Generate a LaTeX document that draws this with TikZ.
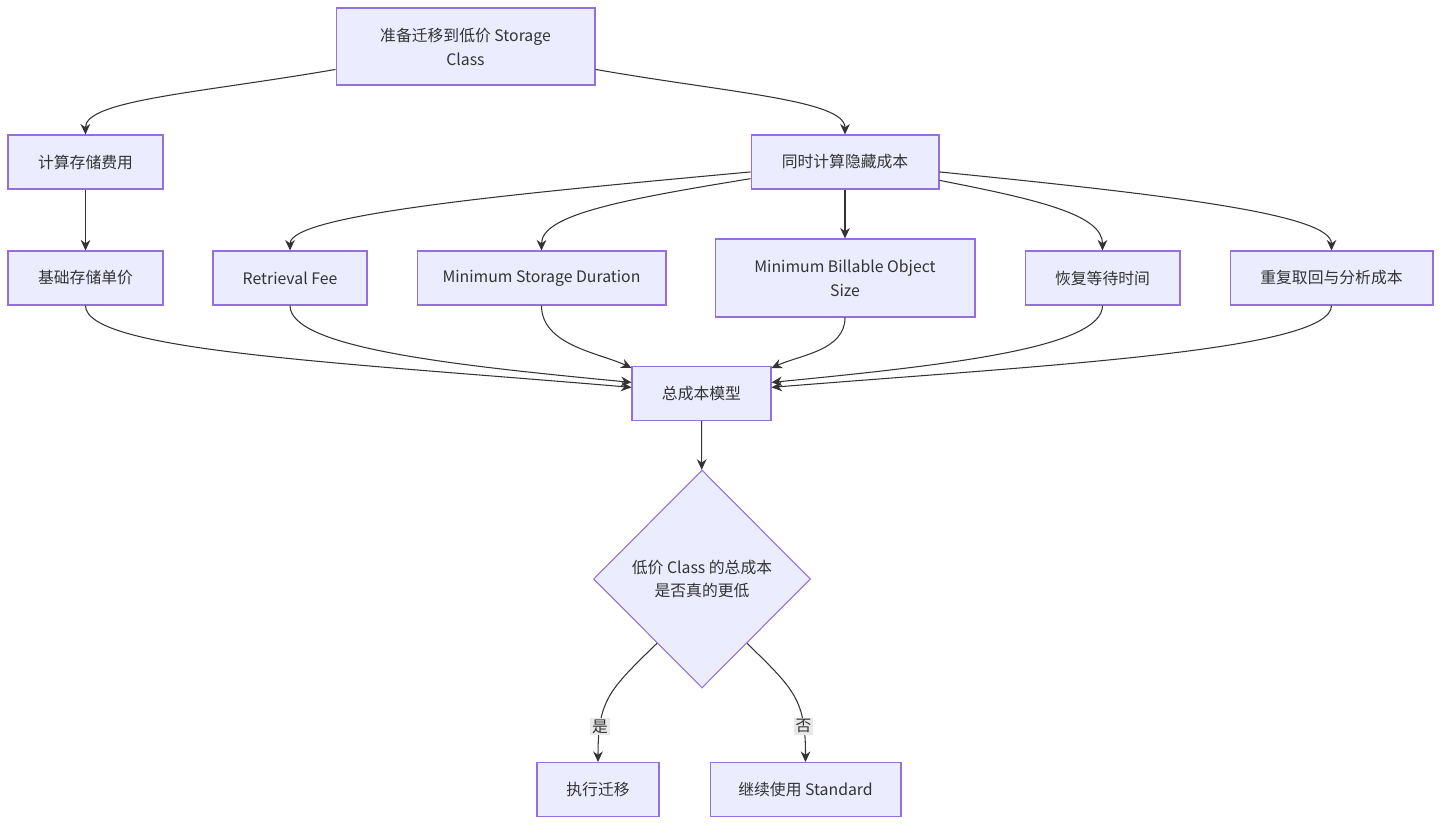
\documentclass[tikz,border=0pt]{standalone}
\usepackage{fontspec}
\setmainfont{Noto Sans CJK SC}
\usepackage{tikz}
\usetikzlibrary{
    shapes.geometric,
    arrows.meta
}
\definecolor{boxfill}{HTML}{ECECFF}
\definecolor{boxline}{HTML}{9370DB}
\definecolor{linkgray}{HTML}{333333}
\definecolor{labelbg}{HTML}{E8E8E8}
\tikzset{
    >={Stealth[length=6pt,width=5.5pt]},
    box/.style={
        draw=boxline,
        fill=boxfill,
        line width=0.6pt,
        minimum height=1.08cm,
        inner sep=2pt,
        align=center,
        text=linkgray,
        font=\fontsize{9}{13.6}\selectfont
    },
    decision/.style={
        box,
        diamond,
        minimum width=4.34cm,
        minimum height=4.36cm,
        inner sep=0pt
    },
    link/.style={
        ->,
        draw=linkgray,
        line width=0.6pt
    },
    yesno/.style={
        fill=labelbg,
        inner sep=1pt,
        text=linkgray,
        font=\fontsize{9}{11}\selectfont
    }
}

\begin{document}
\begin{tikzpicture}[
    x=0.02cm,
    y=-0.02cm
]
    \useasboundingbox (0,0) rectangle (1456,834);

    % Nodos
    \node[box, minimum width=5.18cm, minimum height=1.54cm]
        (plan) at (465.5,46.5) {准备迁移到低价 Storage\\Class};

    \node[box, minimum width=3.1cm]  (storage) at (85.5,162) {计算存储费用};
    \node[box, minimum width=3.76cm] (hidden)  at (845,162)  {同时计算隐藏成本};

    \node[box, minimum width=3.1cm]  (unitprice)   at (85.5,278)  {基础存储单价};
    \node[box, minimum width=3.08cm] (retrieval)   at (290,278)   {Retrieval Fee};
    \node[box, minimum width=4.98cm] (minduration) at (541.5,278) {Minimum Storage Duration};
    \node[box, minimum width=5.2cm, minimum height=1.56cm]
        (minsize) at (845,278) {Minimum Billable Object\\Size};
    \node[box, minimum width=3.1cm]  (restore) at (1102.5,278) {恢复等待时间};
    \node[box, minimum width=4.06cm] (reread)  at (1331.5,278) {重复取回与分析成本};

    \node[box, minimum width=2.78cm] (total) at (701.5,393.5) {总成本模型};

    \node[decision] (cheaper) at (702,579) {低价 Class 的总成本\\是否真的更低};

    \node[box, minimum width=2.44cm] (migrate) at (598,789.5)   {执行迁移};
    \node[box, minimum width=3.82cm] (keep)    at (805.5,789.5) {继续使用 Standard};

    % Conexiones: arriba
    \draw[link] (plan.190) .. controls (200,93) and (85,100) .. (storage.north);
    \draw[link] (plan.-10) .. controls (730,93) and (845,100) .. (hidden.north);

    \draw[link] (storage) -- (unitprice);
    \draw[link] (hidden.186) .. controls (500,195) and (290,215) .. (retrieval.north);
    \draw[link] (hidden.190) .. controls (620,200) and (541.5,215) .. (minduration.north);
    \draw[link] (hidden) -- (minsize);
    \draw[link] (hidden.-11) .. controls (1040,200) and (1102.5,215) .. (restore.north);
    \draw[link] (hidden.-6) .. controls (1180,196) and (1331.5,215) .. (reread.north);

    % Conexiones: hacia el modelo total
    \draw[link] (unitprice.south) .. controls +(0,45) and (332,362) .. (total.175);
    \draw[link] (retrieval.south) .. controls +(0,42) and (450,365) .. (total.171);
    \draw[link] (minduration.south) .. controls +(0,40) and (600,353) .. (total.160);
    \draw[link] (minsize.south) .. controls +(0,33) and (800,355) .. (total.20);
    \draw[link] (restore.south) .. controls +(0,42) and (950,365) .. (total.9);
    \draw[link] (reread.south) .. controls +(0,45) and (1050,365) .. (total.5);

    \draw[link] (total) -- (cheaper);

    % Decision
    \draw[link] (cheaper.235) .. controls (609,690) and (598,700) .. (migrate.north)
        node[yesno, pos=0.77] {是};
    \draw[link] (cheaper.305) .. controls (795,690) and (805.5,700) .. (keep.north)
        node[yesno, pos=0.77] {否};

\end{tikzpicture}
\end{document}
